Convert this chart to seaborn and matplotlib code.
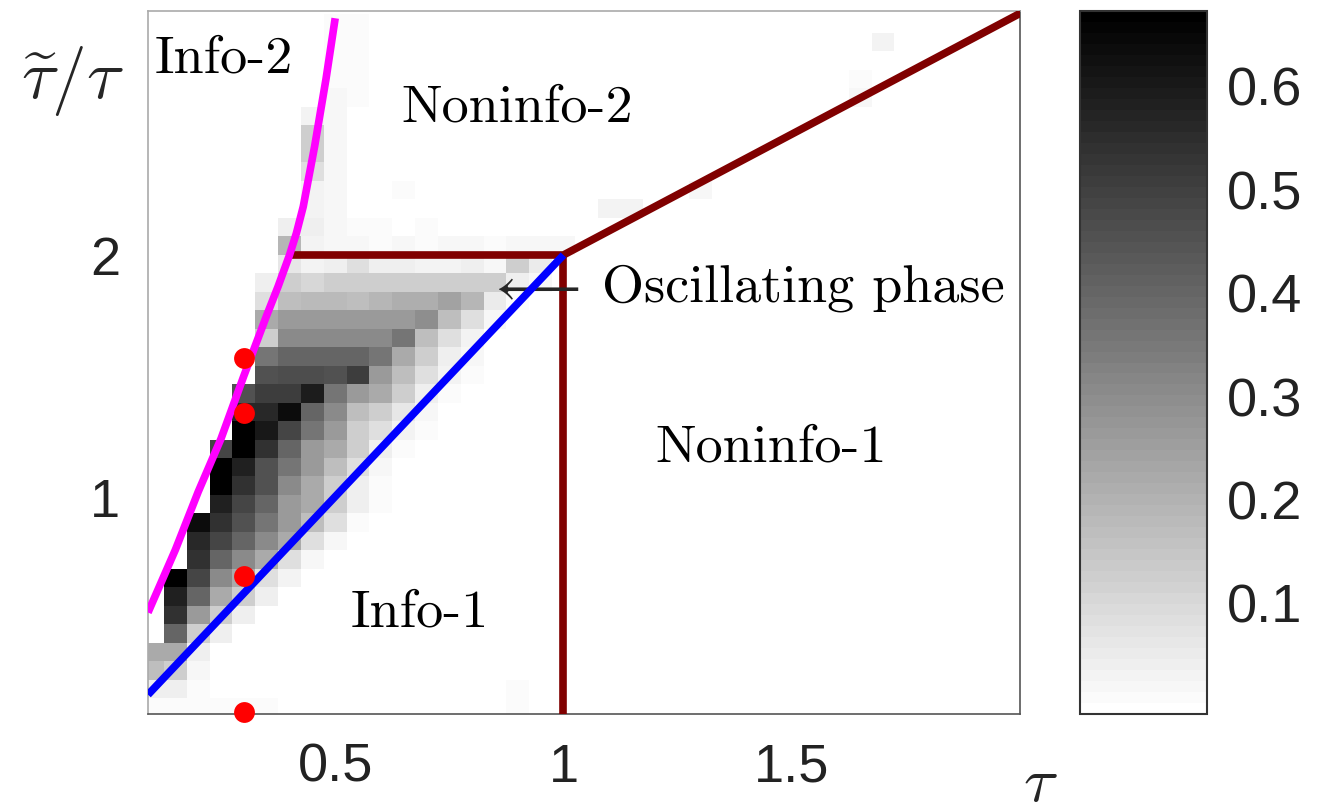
import numpy as np
import matplotlib
matplotlib.use("Agg")
import matplotlib.pyplot as plt
import seaborn as sns

sns.set_style("white")
plt.rcParams["font.family"] = ["Liberation Sans", "DejaVu Sans"]
plt.rcParams["mathtext.fontset"] = "cm"

# grid of the map: tau columns 0.10 ... 2.00, ratio rows from 0.127 upward
tau_step = 0.05
tau_first = 0.10
ratio_step = 0.0765
ratio_first = 0.127
n_cols = 39
n_rows = 39

# cell values, one list per row (bottom row first), columns from tau = 0.10
heat_rows = [
    [0.01, 0.01, 0.01, 0.01, 0.01, 0.01],
    [0.04, 0.04, 0.01],
    [0.17, 0.13, 0.02],
    [0.22, 0.22, 0.04],
    [0.00, 0.40, 0.13, 0.04],
    [0.00, 0.54, 0.26, 0.13, 0.04],
    [0.00, 0.58, 0.40, 0.22, 0.13, 0.04],
    [0.00, 0.67, 0.49, 0.31, 0.22, 0.08, 0.03],
    [0.00, 0.00, 0.54, 0.40, 0.31, 0.22, 0.08, 0.02],
    [0.00, 0.00, 0.56, 0.49, 0.40, 0.31, 0.22, 0.08, 0.02],
    [0.00, 0.00, 0.63, 0.54, 0.45, 0.36, 0.26, 0.17, 0.08, 0.01],
    [0.00, 0.00, 0.00, 0.58, 0.49, 0.40, 0.26, 0.22, 0.13, 0.04, 0.01],
    [0.00, 0.00, 0.00, 0.67, 0.54, 0.45, 0.31, 0.22, 0.13, 0.04, 0.01],
    [0.00, 0.00, 0.00, 0.67, 0.58, 0.45, 0.36, 0.26, 0.17, 0.08, 0.02],
    [0.00, 0.00, 0.00, 0.49, 0.67, 0.54, 0.40, 0.26, 0.22, 0.13, 0.04, 0.01],
    [0.00, 0.00, 0.00, 0.00, 0.67, 0.60, 0.49, 0.36, 0.26, 0.13, 0.08, 0.03, 0.01],
    [0.00, 0.00, 0.00, 0.00, 0.56, 0.56, 0.63, 0.40, 0.31, 0.17, 0.13, 0.06, 0.02],
    [0.00, 0.00, 0.00, 0.00, 0.45, 0.51, 0.51, 0.59, 0.36, 0.26, 0.22, 0.13, 0.04, 0.01],
    [0.00, 0.00, 0.00, 0.00, 0.00, 0.45, 0.47, 0.47, 0.45, 0.51, 0.26, 0.17, 0.08, 0.03, 0.01],
    [0.00, 0.00, 0.00, 0.00, 0.00, 0.36, 0.40, 0.40, 0.40, 0.40, 0.36, 0.22, 0.13, 0.04, 0.02],
    [0.00, 0.00, 0.00, 0.00, 0.00, 0.13, 0.31, 0.31, 0.31, 0.31, 0.31, 0.36, 0.17, 0.08, 0.03],
    [0.00, 0.00, 0.00, 0.00, 0.00, 0.22, 0.26, 0.26, 0.26, 0.26, 0.26, 0.26, 0.30, 0.17, 0.08, 0.02],
    [0.00, 0.00, 0.00, 0.00, 0.00, 0.08, 0.17, 0.18, 0.18, 0.17, 0.19, 0.21, 0.21, 0.24, 0.19, 0.05, 0.01],
    [0.00, 0.00, 0.00, 0.00, 0.00, 0.04, 0.13, 0.10, 0.13, 0.13, 0.13, 0.13, 0.13, 0.13, 0.13, 0.13, 0.04, 0.02],
    [0.00, 0.00, 0.00, 0.00, 0.00, 0.00, 0.06, 0.03, 0.04, 0.08, 0.04, 0.04, 0.03, 0.03, 0.04, 0.02, 0.13, 0.05],
    [0.00, 0.00, 0.00, 0.00, 0.00, 0.00, 0.19, 0.03, 0.02, 0.02, 0.01, 0.02, 0.01, 0.02, 0.02, 0.01, 0.02, 0.02, 0.02],
    [0.00, 0.00, 0.00, 0.00, 0.00, 0.00, 0.04, 0.04, 0.02, 0.01, 0.01, 0.00, 0.01],
    [0.00, 0.00, 0.00, 0.00, 0.00, 0.00, 0.00, 0.03, 0.02],
    [0.00, 0.00, 0.00, 0.00, 0.00, 0.00, 0.00, 0.03, 0.02, 0.00, 0.00, 0.01],
    [0.00, 0.00, 0.00, 0.00, 0.00, 0.00, 0.00, 0.08, 0.02],
    [0.00, 0.00, 0.00, 0.00, 0.00, 0.00, 0.00, 0.13, 0.02],
    [0.00, 0.00, 0.00, 0.00, 0.00, 0.00, 0.00, 0.13, 0.02],
    [0.00, 0.00, 0.00, 0.00, 0.00, 0.00, 0.00, 0.03, 0.02],
    [0.00, 0.00, 0.00, 0.00, 0.00, 0.00, 0.00, 0.00, 0.02, 0.01],
    [0.00, 0.00, 0.00, 0.00, 0.00, 0.00, 0.00, 0.00, 0.01, 0.01],
    [0.00, 0.00, 0.00, 0.00, 0.00, 0.00, 0.00, 0.00, 0.01, 0.01],
    [0.00, 0.00, 0.00, 0.00, 0.00, 0.00, 0.00, 0.00, 0.01, 0.01],
    [0.00, 0.00, 0.00, 0.00, 0.00, 0.00, 0.00, 0.00, 0.01, 0.01],
]
# isolated faint cells (row, column, value)
faint_cells = [(0, 16, 0.01), (1, 16, 0.01), (27, 20, 0.03), (27, 21, 0.03),
               (28, 24, 0.02), (33, 31, 0.02), (34, 31, 0.01), (36, 32, 0.03)]

# phase boundaries
tau_magenta = [0.09, 0.15, 0.20, 0.25, 0.30, 0.35, 0.375, 0.40, 0.415, 0.43, 0.455, 0.48, 0.50]
ratio_magenta = [0.52, 0.78, 1.02, 1.24, 1.50, 1.75, 1.87, 2.00, 2.09, 2.20, 2.45, 2.73, 2.98]
tau_blue = [0.09, 1.0]
ratio_blue = [0.18, 2.0]
tau_brown = [0.405, 1.0, 2.0]
ratio_brown = [2.0, 2.0, 3.0]
tau_brown_v = [1.0, 1.0]
ratio_brown_v = [0.1, 2.0]
# sample points
tau_dots = [0.3, 0.3, 0.3, 0.3]
ratio_dots = [1.574, 1.346, 0.673, 0.108]

x_ticks = [0.5, 1, 1.5]
x_ticklabels = ["0.5", "1", "1.5"]
y_ticks = [1, 2]
y_ticklabels = ["1", "2"]
cbar_ticks = [0.1, 0.2, 0.3, 0.4, 0.5, 0.6]
cbar_ticklabels = ["0.1", "0.2", "0.3", "0.4", "0.5", "0.6"]

xlim = (0.09, 2.0)
ylim = (0.1, 3.01)

heat = np.zeros((n_rows, n_cols))
for r, row in enumerate(heat_rows):
    heat[r, :len(row)] = row
for r, c, v in faint_cells:
    heat[r, c] = v


def col_index(t):
    return (t - (tau_first - tau_step / 2)) / tau_step


def row_index(q):
    return (q - (ratio_first - ratio_step / 2)) / ratio_step


W, H = 1325, 812
fig = plt.figure(figsize=(W / 100, H / 100), dpi=100)
pos = [148 / W, 97 / H, 872 / W, 703 / H]
ax_h = fig.add_axes(pos)
cax = fig.add_axes([1080 / W, 97 / H, 127 / W, 703 / H])

sns.heatmap(heat, ax=ax_h, cmap=plt.get_cmap("gray_r", 64), vmin=-0.008, vmax=0.672,
            mask=heat <= 0, cbar_ax=cax, xticklabels=False, yticklabels=False)
ax_h.set_xlim(col_index(xlim[0]), col_index(xlim[1]))
ax_h.set_ylim(row_index(ylim[0]), row_index(ylim[1]))
ax_h.axis("off")

# colorbar look
cbar = ax_h.collections[0].colorbar
cbar.outline.set_edgecolor("#333333")
cbar.outline.set_linewidth(1.5)
cbar.set_ticks(cbar_ticks)
cbar.set_ticklabels(cbar_ticklabels)
cax.tick_params(axis="y", direction="in", length=7, width=1, color="#333333",
                labelcolor="#222222", labelsize=39, pad=14, right=True, left=False)

# overlay axes in data units
ax = fig.add_axes(pos)
ax.patch.set_alpha(0)
ax.set_xlim(*xlim)
ax.set_ylim(*ylim)

lw = 5.5
ax.plot(tau_brown, ratio_brown, color="#800000", lw=lw, solid_joinstyle="miter", zorder=3)
ax.plot(tau_brown_v, ratio_brown_v, color="#800000", lw=lw, solid_capstyle="butt", zorder=3)
ax.plot(tau_blue, ratio_blue, color="#0000ff", lw=lw, solid_capstyle="butt", zorder=4)
ax.plot(tau_magenta, ratio_magenta, color="#ff00ff", lw=lw, solid_capstyle="butt", zorder=4)
ax.plot(tau_dots, ratio_dots, "o", color="#ff0000", ms=15, mec="none", clip_on=False, zorder=6)

txt = dict(family="cmr10", fontsize=39, color="black", va="baseline", ha="left")
ax.text(0.105, 2.758, "Info-2", **txt)
ax.text(0.646, 2.558, "Noninfo-2", **txt)
ax.text(1.2006, 1.151, "Noninfo-1", **txt)
ax.text(0.5347, 0.4655, "Info-1", **txt)
ax.text(1.0845, 1.811, "Oscillating phase", **txt)
ax.text(0.83, 1.811, r"$\longleftarrow$", fontsize=39, va="baseline", ha="left")

ax.set_xticks(x_ticks)
ax.set_xticklabels(x_ticklabels)
ax.set_yticks(y_ticks)
ax.set_yticklabels(y_ticklabels)
ax.tick_params(length=0, labelsize=39, labelcolor="#222222", pad=20)

for side in ["top", "left"]:
    ax.spines[side].set_color("#aaaaaa")
for side in ["bottom", "right"]:
    ax.spines[side].set_color("#555555")
for s in ax.spines.values():
    s.set_linewidth(1.2)

fig.text(72 / W, 1 - 81 / H, r"$\widetilde{\tau}/\tau$", fontsize=50, ha="center", va="center")
fig.text(1040 / W, 1 - 784 / H, r"$\tau$", fontsize=46, ha="center", va="center")

fig.savefig("out.png", dpi=100)
